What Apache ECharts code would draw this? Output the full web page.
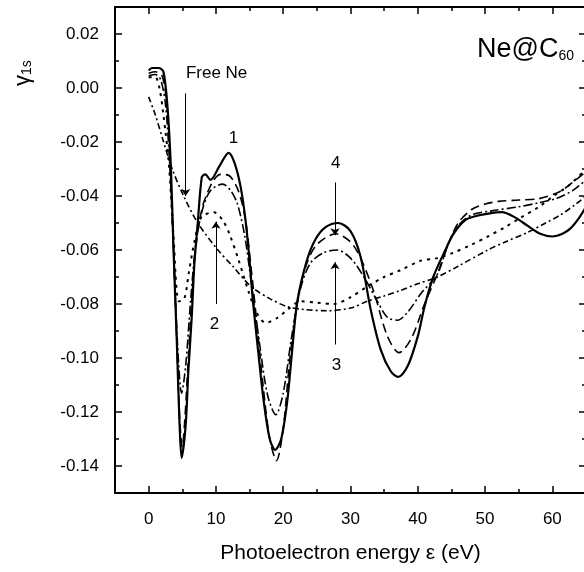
<!DOCTYPE html>
<html>
<head>
<meta charset="utf-8">
<script src="https://cdn.jsdelivr.net/npm/echarts@6/dist/echarts.min.js"></script>
<style>
  html, body { margin: 0; padding: 0; background: #fff; }
  #main { width: 584px; height: 572px; }
</style>
</head>
<body>
<div id="main"></div>
<script>
// ticks
var xMajor = [0, 10, 20, 30, 40, 50, 60];
var xMinor = [5, 15, 25, 35, 45, 55];
var yMajor = [-0.14, -0.12, -0.10, -0.08, -0.06, -0.04, -0.02, 0.00, 0.02];
var yMinor = [-0.13, -0.11, -0.09, -0.07, -0.05, -0.03, -0.01, 0.01];

// curve 1 (solid)
var curve1 = [[0,0.0065],[0.5,0.0074],[1.5,0.0074],[2.2,0.006],[2.8,-0.007],[3.3,-0.029],[3.7,-0.06],[4.2,-0.095],[4.6,-0.125],[4.9,-0.137],
  [5.5,-0.125],[5.9,-0.105],[6.4,-0.085],[6.8,-0.065],[7.3,-0.05],[7.9,-0.033],[8.4,-0.032],[9.2,-0.034],[10.5,-0.029],[11.9,-0.024],
  [12.8,-0.028],[13.7,-0.037],[14.4,-0.049],[15,-0.064],[15.5,-0.079],[16.3,-0.098],[17.1,-0.116],[18,-0.130],[18.8,-0.134],[19.7,-0.130],
  [20.6,-0.116],[21.3,-0.098],[22.1,-0.079],[23.5,-0.064],[24.8,-0.056],[26.3,-0.0515],[28.2,-0.050],[30,-0.053],[31.5,-0.0625],[33,-0.082],
  [34.5,-0.097],[36,-0.105],[37.1,-0.107],[38.5,-0.103],[40,-0.092],[41,-0.081],[42.3,-0.070],[44.1,-0.060],[45.3,-0.054],[47,-0.049],
  [48.5,-0.0475],[50.5,-0.0465],[52.5,-0.046],[54.5,-0.048],[56.3,-0.051],[58.2,-0.054],[60,-0.055],[61.5,-0.054],[62.7,-0.052],[64,-0.048],[65,-0.044]];
// curve 2 (dotted)
var curve2 = [[0,0.004],[1,0.004],[1.6,0.0],[2.2,-0.01],[3,-0.028],[3.7,-0.055],[4.5,-0.079],[5.3,-0.078],[6,-0.068],[6.8,-0.057],
  [7.8,-0.048],[9.7,-0.046],[11,-0.049],[12,-0.054],[13.4,-0.064],[14.8,-0.075],[16,-0.083],[17.4,-0.087],[19.2,-0.085],[20.7,-0.082],
  [22.6,-0.079],[25,-0.0795],[27.5,-0.080],[30,-0.0775],[32.5,-0.0735],[35,-0.070],[37.4,-0.0675],[40.4,-0.064],[42.9,-0.063],[45.3,-0.061],
  [48,-0.058],[50.4,-0.055],[53,-0.0515],[55.3,-0.048],[58,-0.044],[60.2,-0.040],[62.5,-0.036],[65,-0.030]];
// curve 3 (dash-dot)
var curve3 = [[0,0.0045],[1,0.005],[1.8,0.003],[2.5,-0.006],[3.1,-0.027],[3.7,-0.06],[4.3,-0.095],[4.9,-0.113],[5.5,-0.103],[6.2,-0.08],
  [7,-0.058],[8,-0.045],[9.2,-0.038],[11,-0.0356],[12.2,-0.038],[13.2,-0.043],[14.3,-0.055],[15.3,-0.073],[16.5,-0.095],[17.7,-0.114],
  [18.9,-0.121],[20,-0.113],[21.2,-0.093],[22.5,-0.075],[24,-0.065],[26,-0.061],[28,-0.060],[30,-0.063],[32,-0.07],[34,-0.079],
  [35.5,-0.085],[37,-0.086],[38.5,-0.083],[40.5,-0.076],[42.9,-0.069],[44.5,-0.058],[46,-0.051],[48,-0.047],[51,-0.0455],[55,-0.044],
  [58,-0.0425],[60.5,-0.041],[63,-0.038],[65,-0.034]];
// curve 4 (dashed)
var curve4 = [[0,0.0055],[1,0.006],[2,0.0045],[2.7,-0.006],[3.2,-0.028],[3.7,-0.06],[4.2,-0.095],[4.6,-0.122],[5,-0.133],[5.4,-0.122],
  [5.9,-0.1],[6.5,-0.075],[7.2,-0.055],[8,-0.044],[8.7,-0.039],[9.7,-0.034],[10.7,-0.032],[12,-0.0325],[13.4,-0.0385],[14.4,-0.049],
  [15.2,-0.066],[16,-0.085],[17,-0.11],[18,-0.13],[19,-0.138],[20,-0.126],[21,-0.1],[22.2,-0.078],[23.5,-0.065],[25,-0.058],
  [27.8,-0.054],[30,-0.057],[31.5,-0.063],[33.4,-0.075],[35.5,-0.092],[37.2,-0.098],[39,-0.093],[41,-0.08],[42.9,-0.069],[44.5,-0.058],
  [46,-0.05],[48,-0.045],[50,-0.043],[52,-0.042],[55,-0.0415],[58,-0.041],[61,-0.0385],[63,-0.035],[65,-0.031]];
// free Ne
var freeNe = [[0,-0.0033],[1,-0.01],[2.1,-0.019],[3.5,-0.03],[5.2,-0.040],[7.3,-0.050],[10.3,-0.060],[12.5,-0.066],[15.2,-0.0735],[18,-0.078],
  [20.6,-0.081],[23,-0.082],[26.6,-0.0825],[30,-0.0815],[32.5,-0.079],[35,-0.077],[37.4,-0.075],[40,-0.0725],[42.9,-0.070],[46,-0.066],
  [50.4,-0.060],[53,-0.057],[56.3,-0.0535],[59,-0.050],[61.2,-0.047],[63.5,-0.043],[65,-0.040]];

var FONT = 'Liberation Sans';
var myChart = echarts.init(document.getElementById('main'));

function xAx(pos, ticks, len, main) {
    return {
        type: 'value', min: -5, max: 65, position: pos,
        axisLine: { show: main, onZero: false, lineStyle: { color: '#000', width: 2 } },
        axisTick: { show: true, inside: true, length: len, customValues: ticks, lineStyle: { color: '#000', width: 1.5 } },
        axisLabel: { show: main && pos === 'bottom', customValues: xMajor, color: '#000', fontSize: 17, fontFamily: FONT, margin: 18 },
        splitLine: { show: false },
        name: main && pos === 'bottom' ? 'Photoelectron energy ε (eV)' : '',
        nameLocation: 'middle', nameGap: 50,
        nameTextStyle: { color: '#000', fontSize: 21, fontFamily: FONT }
    };
}
function yAx(pos, ticks, len, main) {
    return {
        type: 'value', min: -0.15, max: 0.03, position: pos,
        axisLine: { show: main, onZero: false, lineStyle: { color: '#000', width: 2 } },
        axisTick: { show: true, inside: true, length: len, customValues: ticks, lineStyle: { color: '#000', width: 1.5 } },
        axisLabel: { show: main && pos === 'left', customValues: yMajor, color: '#000', fontSize: 17, fontFamily: FONT, margin: 16,
            formatter: function (v) { return v.toFixed(2); } },
        splitLine: { show: false }
    };
}

function line(data, type, width) {
    return { type: 'line', data: data, showSymbol: false, smooth: 0.3, silent: true,
        lineStyle: { color: '#000', width: width, type: type } };
}

var s1 = line(curve1, 'solid', 2.2);
s1.markLine = {
    silent: true, symbol: ['none', 'arrow'], symbolSize: 7,
    label: { show: false },
    lineStyle: { color: '#000', width: 1, type: 'solid' },
    data: [
        [{ coord: [5.5, -0.002] }, { coord: [5.5, -0.040] }],
        [{ coord: [10, -0.080] }, { coord: [10, -0.0495] }],
        [{ coord: [27.7, -0.035] }, { coord: [27.7, -0.0545] }],
        [{ coord: [27.7, -0.095] }, { coord: [27.7, -0.0645] }]
    ]
};
s1.markPoint = {
    silent: true, symbol: 'rect', symbolSize: 1,
    itemStyle: { color: 'rgba(0,0,0,0)' },
    label: { show: true, position: 'inside', color: '#000', fontSize: 17, fontFamily: FONT,
        formatter: function (p) { return p.name; } },
    data: [
        { name: 'Free Ne', coord: [10.1, 0.0056] },
        { name: '1', coord: [12.6, -0.0185] },
        { name: '2', coord: [9.8, -0.0875] },
        { name: '4', coord: [27.8, -0.0278] },
        { name: '3', coord: [27.9, -0.1028] }
    ]
};

var option = {
    animation: false,
    backgroundColor: '#fff',
    grid: { left: 115, right: -2, top: 7, bottom: 79, containLabel: false, outerBoundsMode: 'none' },
    xAxis: [xAx('bottom', xMajor, 7, true), xAx('bottom', xMinor, 4, false), xAx('top', xMajor, 7, true), xAx('top', xMinor, 4, false)],
    yAxis: [yAx('left', yMajor, 7, true), yAx('left', yMinor, 4, false), yAx('right', yMajor, 7, true), yAx('right', yMinor, 4, false)],
    graphic: [
        { type: 'text', x: 12, y: 86, rotation: Math.PI / 2,
          style: { text: '{g|γ}{s|1s}', fill: '#000',
            rich: { g: { fontSize: 22, fontFamily: FONT, lineHeight: 22, verticalAlign: 'top' },
                    s: { fontSize: 14, fontFamily: FONT, lineHeight: 14, verticalAlign: 'bottom', padding: [14, 0, 0, 0] } } } },
        { type: 'text', right: 10, top: 25,
          style: { text: '{m|Ne@C}{s|60}', fill: '#000',
            rich: { m: { fontSize: 27, fontFamily: FONT, lineHeight: 27, verticalAlign: 'top' },
                    s: { fontSize: 14, fontFamily: FONT, lineHeight: 14, verticalAlign: 'bottom', padding: [24, 0, 0, 0] } } } }
    ],
    series: [
        s1,
        line(curve2, [3, 5], 2),
        line(curve3, [9, 3, 2, 3], 1.6),
        line(curve4, [9, 5], 1.6),
        line(freeNe, [6, 3, 2, 3], 1.6)
    ]
};
myChart.setOption(option);
</script>
</body>
</html>
